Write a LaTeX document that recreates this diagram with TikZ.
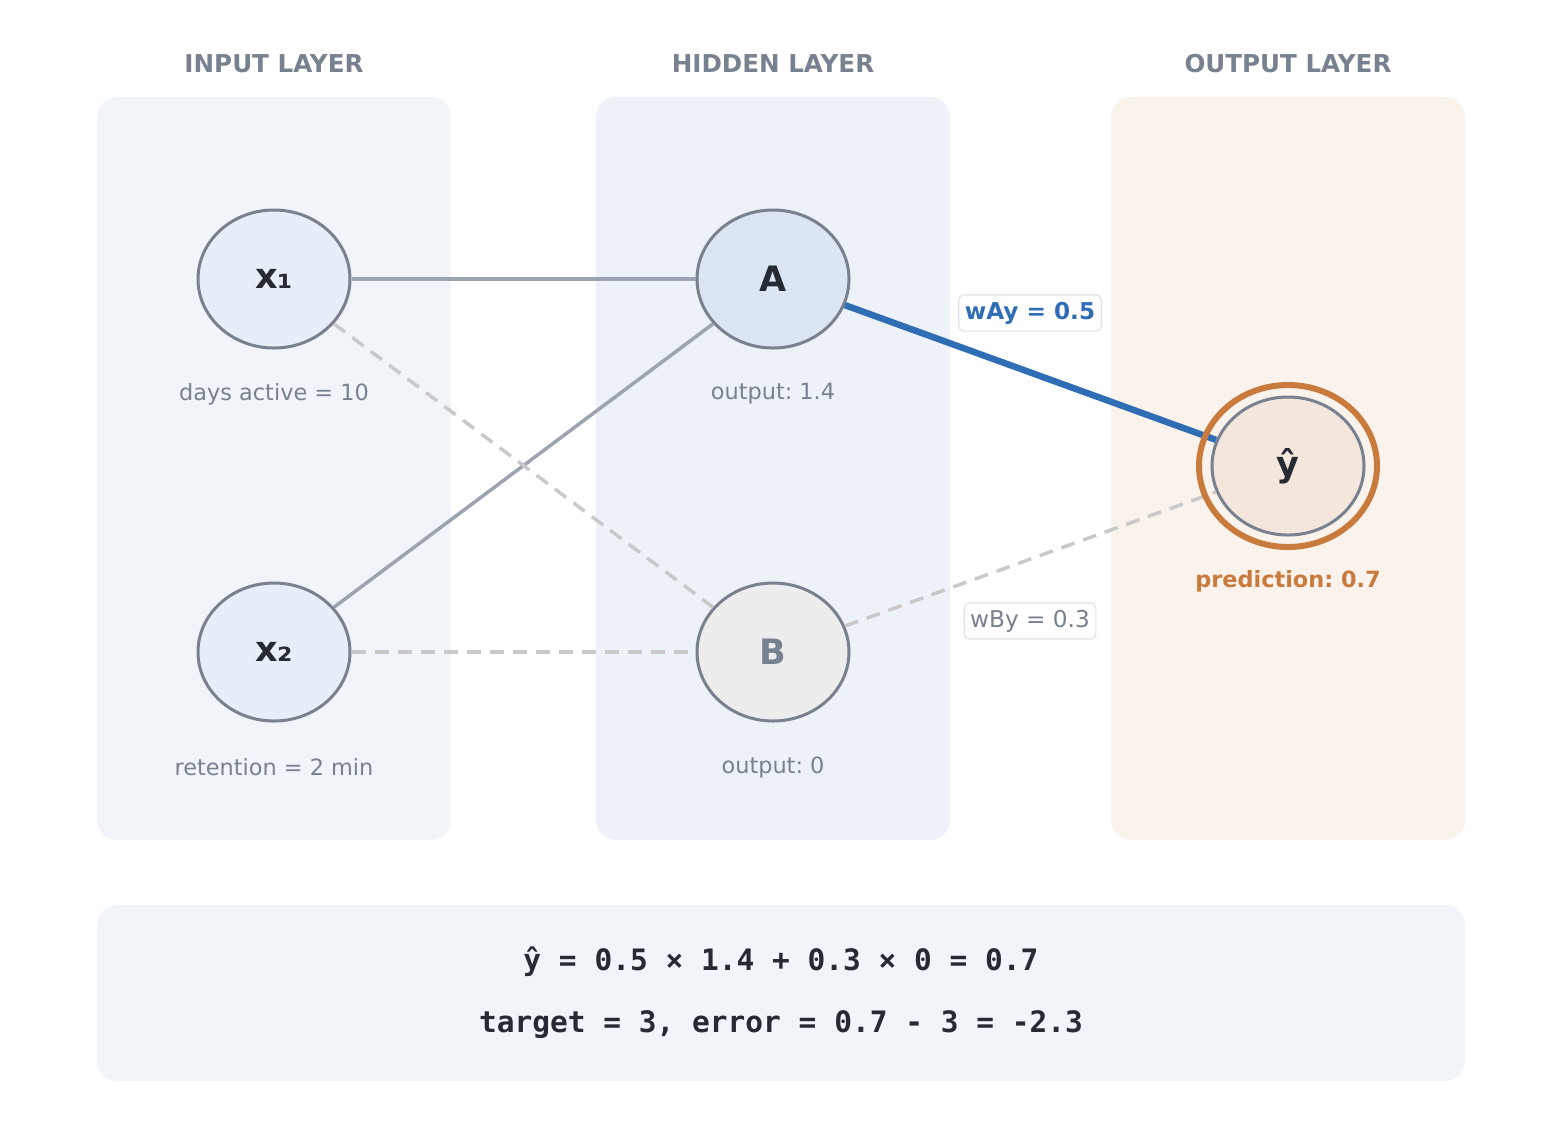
\documentclass[tikz,border=0pt]{standalone}
\usepackage{fontspec}
\setmainfont{DejaVu Sans}
\setmonofont{DejaVu Sans Mono}
\frenchspacing
\usetikzlibrary{backgrounds, positioning, shapes.geometric}
\definecolor{inkdark}{RGB}{38,43,51}
\definecolor{inkgray}{RGB}{120,129,143}
\definecolor{rimgray}{RGB}{121,129,143}
\definecolor{wiregray}{RGB}{155,164,176}
\definecolor{dashgray}{RGB}{201,201,201}
\definecolor{wireblue}{RGB}{47,109,181}
\definecolor{predorange}{RGB}{201,122,61}
\definecolor{inpanel}{RGB}{241,245,250}
\definecolor{hidpanel}{RGB}{237,242,249}
\definecolor{outpanel}{RGB}{250,243,236}
\definecolor{infill}{RGB}{232,238,248}
\definecolor{hidfill}{RGB}{220,230,242}
\definecolor{offfill}{RGB}{237,237,237}
\definecolor{outfill}{RGB}{243,230,220}
\definecolor{tagrim}{RGB}{223,227,234}
\tikzset{x=0.5pt, y=-0.5pt,
    panel/.style={rounded corners=10pt},
    layertitle/.style={font=\fontsize{12.3}{14}\selectfont\bfseries, text=inkgray},
    neuron/.style={ellipse, draw=rimgray, line width=1.5pt,
        minimum width=76pt, minimum height=69pt, inner sep=0pt,
        font=\fontsize{17.5}{20}\selectfont\bfseries, text=inkdark},
    caption/.style={font=\fontsize{11.2}{13}\selectfont, text=inkgray},
    wire/.style={draw=wiregray, line width=1.75pt},
    offwire/.style={draw=dashgray, line width=1.75pt, dash pattern=on 7pt off 4.5pt},
    hotwire/.style={draw=wireblue, line width=3.25pt},
    weighttag/.style={draw=tagrim, fill=white, rounded corners=2.5pt, line width=0.6pt,
        inner xsep=3pt, inner ysep=3.5pt, font=\fontsize{11.6}{13}\selectfont},
    formula/.style={font=\fontsize{14.75}{17}\selectfont\ttfamily\bfseries, text=inkdark}}

\begin{document}
\begin{tikzpicture}
\useasboundingbox (0,0) rectangle (1546,1132);

% layer panels
\fill[panel, inpanel]  (97,97)   rectangle (451,840);
\fill[panel, hidpanel] (596,97)  rectangle (950,840);
\fill[panel, outpanel] (1111,97) rectangle (1465,840);
\fill[panel, inpanel]  (97,905)  rectangle (1465,1081);

\node[layertitle] (tin)  at (274,64)  {INPUT LAYER};
\node[layertitle] (thid) at (773,64)  {HIDDEN LAYER};
\node[layertitle] (tout) at (1288,64) {OUTPUT LAYER};

% neurons
\node[neuron, fill=infill]  (x1)   at (274,279)  {x₁};
\node[neuron, fill=infill]  (x2)   at (274,652)  {x₂};
\node[neuron, fill=hidfill] (A)    at (773,279)  {A};
\node[neuron, fill=offfill, text=inkgray] (B) at (773,652) {B};
\node[neuron, fill=outfill] (yhat) at (1288,466) {ŷ};

% connections
\path
    (x1) edge [wire]    (A)
    (x2) edge [wire]    (A)
    (x1) edge [offwire] (B)
    (x2) edge [offwire] (B)
    (B)  edge [offwire] (yhat)
    (A)  edge [hotwire] (yhat);

\draw[predorange, line width=3pt] (yhat.center) ellipse [x radius=89, y radius=81];

\node[weighttag, text=wireblue, font=\fontsize{11.6}{13}\selectfont\bfseries] (wAy) at (1030,313) {wAy = 0.5};
\node[weighttag, text=inkgray] (wBy) at (1030,621) {wBy = 0.3};

% captions
\node[caption] (cx1) at (274,394) {days active = 10};
\node[caption] (cx2) at (274,767) {retention = 2 min};
\node[caption] (cA)  at (773,394) {output: 1.4};
\node[caption] (cB)  at (773,767) {output: 0};
\node[caption, text=predorange, font=\fontsize{11.2}{13}\selectfont\bfseries] (cy) at (1288,581) {prediction: 0.7};

% worked sum
\node[formula] (sum)   at (781,962)  {ŷ = 0.5 × 1.4 + 0.3 × 0 = 0.7};
\node[formula] (error) at (781,1025) {target = 3, error = 0.7 - 3 = -2.3};
\end{tikzpicture}
\end{document}
